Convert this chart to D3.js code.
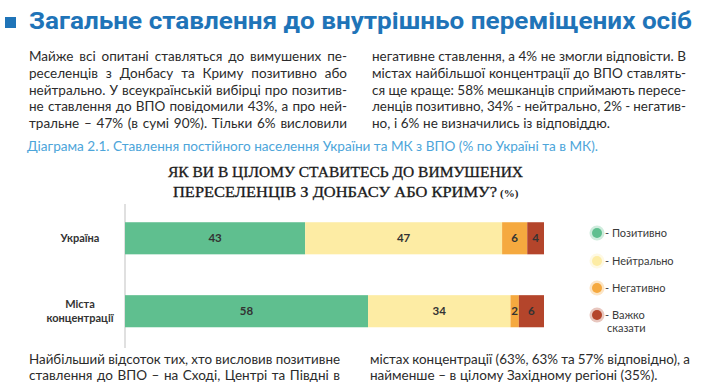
<!DOCTYPE html>
<meta charset="utf-8">
<script src="https://d3js.org/d3.v7.min.js"></script>
<style>
  body { margin: 0; background: #fff; }
  text { font-family: Lato, "Noto Sans", sans-serif; }
</style>
<svg id="page" width="707" height="391"></svg>
<script>

    // data
    var categories = ["Україна", "Міста концентрації"];
    var catLines = [["Україна"], ["Міста", "концентрації"]];
    var series = ["Позитивно", "Нейтрально", "Негативно", "Важко сказати"];
    var ukraine = [43, 47, 6, 4];
    var cities = [58, 34, 2, 6];
    var colors = ["#5fbf8f", "#fdeca4", "#f5a93f", "#b4452b"];

    var leftPara = [
        "Майже всі опитані ставляться до вимушених пе-",
        "реселенців з Донбасу та Криму позитивно або",
        "нейтрально. У всеукраїнській вибірці про позитив-",
        "не ставлення до ВПО повідомили 43%, а про ней-",
        "тральне – 47% (в сумі 90%). Тільки 6% висловили"
    ];
    var rightPara = [
        "негативне ставлення, а 4% не змогли відповісти. В",
        "містах найбільшої концентрації до ВПО ставлять-",
        "ся ще краще: 58% мешканців сприймають пересе-",
        "ленців позитивно, 34% - нейтрально, 2% - негатив-",
        "но, і 6% не визначились із відповіддю."
    ];
    var leftBottom = [
        "Найбільший відсоток тих, хто висловив позитивне",
        "ставлення до ВПО – на Сході, Центрі та Півдні в"
    ];
    var rightBottom = [
        "містах концентрації (63%, 63% та 57% відповідно), а",
        "найменше – в цілому Західному регіоні (35%)."
    ];

    var svg = d3.select("#page");

    // page title
    svg.append("rect")
        .attr("x", 5).attr("y", 17).attr("width", 11).attr("height", 11)
        .attr("fill", "#1f74b8");
    svg.append("text")
        .attr("x", 29).attr("y", 29)
        .attr("textLength", 663).attr("lengthAdjust", "spacingAndGlyphs")
        .style("font-family", "Roboto, sans-serif")
        .style("font-weight", "bold").style("font-size", "24px")
        .attr("fill", "#1f74b8")
        .text("Загальне ставлення до внутрішньо переміщених осіб");

    // justified text lines (spread words, squeeze glyphs if too long)
    var minGap = 3.2;
    function justifyLines(lines, x0, x1, y0, dy, lastFull, fs) {
        lines.forEach(function (line, i) {
            var y = y0 + i * dy;
            var full = i < lines.length - 1 || lastFull;
            var words = line.split(" ");
            var nodes = words.map(function (w) {
                return svg.append("text").attr("y", y)
                    .style("font-size", fs + "px").attr("fill", "#2b2b2b").text(w);
            });
            var widths = nodes.map(function (n) { return n.node().getComputedTextLength(); });
            var total = d3.sum(widths);
            var gap = full ? (x1 - x0 - total) / (words.length - 1) : 3.6;
            var k = 1;
            if (gap < minGap) {
                gap = minGap;
                k = (x1 - x0 - gap * (words.length - 1)) / total;
            }
            if (!full && total + gap * (words.length - 1) > x1 - x0) {
                k = (x1 - x0 - gap * (words.length - 1)) / total;
            }
            var x = x0;
            nodes.forEach(function (n, j) {
                var w = widths[j] * k;
                n.attr("x", x);
                if (k !== 1) n.attr("textLength", w).attr("lengthAdjust", "spacingAndGlyphs");
                x += w + gap;
            });
        });
    }

    justifyLines(leftPara, 29, 347, 61, 16.75, true, 13.5);
    justifyLines(rightPara, 372, 686, 61, 16.75, false, 13.5);
    justifyLines(leftBottom, 29, 340, 364, 15.5, true, 13.5);
    justifyLines(rightBottom, 370, 690, 364, 15.5, false, 13.5);

    // caption
    svg.append("text")
        .attr("x", 27).attr("y", 151)
        .attr("textLength", 571).attr("lengthAdjust", "spacingAndGlyphs")
        .style("font-size", "12.5px").attr("fill", "#4da5da")
        .text("Діаграма 2.1. Ставлення постійного населення України та МК з ВПО (% по Україні та в МК).");

    // chart title
    svg.append("text")
        .attr("x", 168).attr("y", 177)
        .attr("textLength", 355).attr("lengthAdjust", "spacingAndGlyphs")
        .style("font-family", "'Liberation Serif', serif").style("font-size", "15px")
        .attr("fill", "#1a1a1a").attr("stroke", "#1a1a1a").attr("stroke-width", 0.3)
        .text("ЯК ВИ В ЦІЛОМУ СТАВИТЕСЬ ДО ВИМУШЕНИХ");
    svg.append("text")
        .attr("x", 173).attr("y", 197)
        .attr("textLength", 324).attr("lengthAdjust", "spacingAndGlyphs")
        .style("font-family", "'Liberation Serif', serif").style("font-size", "15px")
        .attr("fill", "#1a1a1a").attr("stroke", "#1a1a1a").attr("stroke-width", 0.3)
        .text("ПЕРЕСЕЛЕНЦІВ З ДОНБАСУ АБО КРИМУ?");
    svg.append("text")
        .attr("x", 500).attr("y", 197)
        .style("font-family", "'Liberation Serif', serif").style("font-size", "11px")
        .style("font-weight", "bold")
        .attr("fill", "#222")
        .text("(%)");

    // bars
    var rows = categories.map(function (c, i) {
        var vals = i === 0 ? ukraine : cities;
        var r = { cat: c };
        series.forEach(function (s, j) { r[s] = vals[j]; });
        return r;
    });
    var stacked = d3.stack().keys(series)(rows);

    var x = d3.scaleLinear().domain([0, 100]).range([125, 544]);
    var y = d3.scaleBand().domain(categories).range([204, 345.5])
        .paddingInner(0.56).paddingOuter(0.25);
    var color = d3.scaleOrdinal().domain(series).range(colors);

    svg.append("line")
        .attr("x1", x(0)).attr("x2", x(0))
        .attr("y1", 204).attr("y2", 348)
        .attr("stroke", "#d6d6d6").attr("stroke-width", 1.5);

    var layer = svg.append("g").selectAll("g")
        .data(stacked).enter().append("g")
        .attr("fill", function (d) { return color(d.key); });

    layer.selectAll("rect")
        .data(function (d) { return d; })
        .enter().append("rect")
        .attr("x", function (d) { return x(d[0]); })
        .attr("y", function (d) { return y(d.data.cat); })
        .attr("width", function (d) { return x(d[1]) - x(d[0]); })
        .attr("height", y.bandwidth());

    layer.selectAll("text")
        .data(function (d) { return d; })
        .enter().append("text")
        .attr("x", function (d) { return (x(d[0]) + x(d[1])) / 2; })
        .attr("y", function (d) { return y(d.data.cat) + y.bandwidth() / 2 + 4; })
        .attr("text-anchor", "middle")
        .style("font-size", "11.5px").style("font-weight", "bold")
        .attr("fill", "#333")
        .text(function (d) { return d[1] - d[0]; });

    // category labels
    categories.forEach(function (c, i) {
        var lines = catLines[i];
        var cy = y(c) + y.bandwidth() / 2;
        lines.forEach(function (l, k) {
            svg.append("text")
                .attr("x", 80)
                .attr("y", cy + 4 + (k - (lines.length - 1) / 2) * 14)
                .attr("text-anchor", "middle")
                .style("font-size", "11px").style("font-weight", "bold")
                .attr("fill", "#333")
                .text(l);
        });
    });

    // legend
    var legY = [233, 261, 288, 315];
    var leg = svg.append("g").selectAll("g")
        .data(series).enter().append("g")
        .attr("transform", function (d, i) { return "translate(597," + legY[i] + ")"; });
    leg.append("circle").attr("r", 7.5)
        .attr("fill", function (d) { return color(d); }).attr("opacity", 0.3);
    leg.append("circle").attr("r", 5)
        .attr("fill", function (d) { return color(d); });
    leg.append("text")
        .attr("x", 8).attr("y", 4)
        .style("font-size", "11px").attr("fill", "#3a3a3a")
        .text(function (d) { return "- " + d.split(" ")[0]; });
    leg.filter(function (d) { return d.split(" ").length > 1; })
        .append("text")
        .attr("x", 10).attr("y", 17)
        .style("font-size", "11px").attr("fill", "#3a3a3a")
        .text(function (d) { return d.split(" ")[1]; });

</script>
